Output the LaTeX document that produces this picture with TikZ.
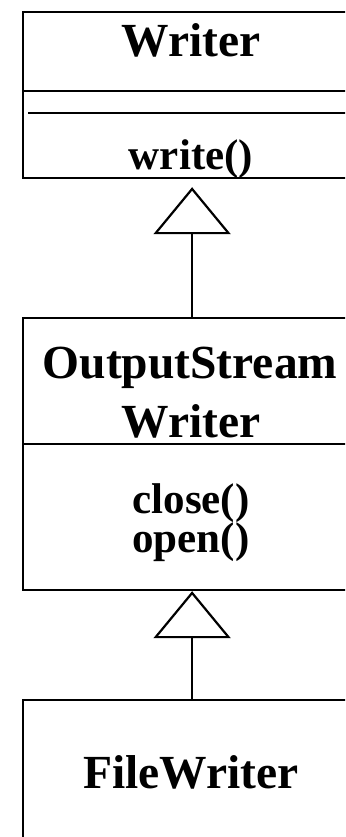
\documentclass[tikz,border=0pt]{standalone}
\usepackage{fontspec}
\setmainfont{Liberation Serif}
\usetikzlibrary{arrows.meta,positioning}

\begin{document}
\begin{tikzpicture}[
    x=1pt, y=-1pt,
    classbox/.style={draw, line width=2.2pt, minimum width=338pt, inner sep=0pt, anchor=north west},
    divider/.style={line width=2.2pt},
    cname/.style={font=\fontsize{47.5}{52}\selectfont\bfseries, anchor=base},
    cop/.style={font=\fontsize{43}{47}\selectfont\bfseries, anchor=base},
    inherit/.style={line width=2.2pt, -{Triangle[open, length=47pt, width=77pt]}}
  ]
  \clip (0,0) rectangle (345,837);

  % Writer
  \node[classbox, minimum height=166pt] (writer) at (22,11) {};
  \draw[divider] (writer.west |- 0,91) -- (writer.east |- 0,91);
  \draw[divider] ([xshift=6pt]writer.west |- 0,113) -- (writer.east |- 0,113);
  \node[cname] (writername) at (191,57) {Writer};
  \node[cop] (writeop) at (191,170) {write()};

  % OutputStreamWriter
  \node[classbox, minimum height=272pt] (oswriter) at (22,317) {};
  \draw[divider] (oswriter.west |- 0,444) -- (oswriter.east |- 0,444);
  \node[cname] (osname) at (190,378) {OutputStream};
  \node[cname] (osname2) at (191,437) {Writer};
  \node[cop] (closeop) at (191,513) {close()};
  \node[cop] (openop) at (191,552) {open()};

  % FileWriter
  \node[classbox, minimum height=200pt] (filewriter) at (22,699) {};
  \node[cname] (fwname) at (191,788) {FileWriter};

  % generalisation
  \draw[inherit] (oswriter.north) -- ([yshift=-8pt]writer.south);
  \draw[inherit] (filewriter.north) -- (oswriter.south);
\end{tikzpicture}
\end{document}
